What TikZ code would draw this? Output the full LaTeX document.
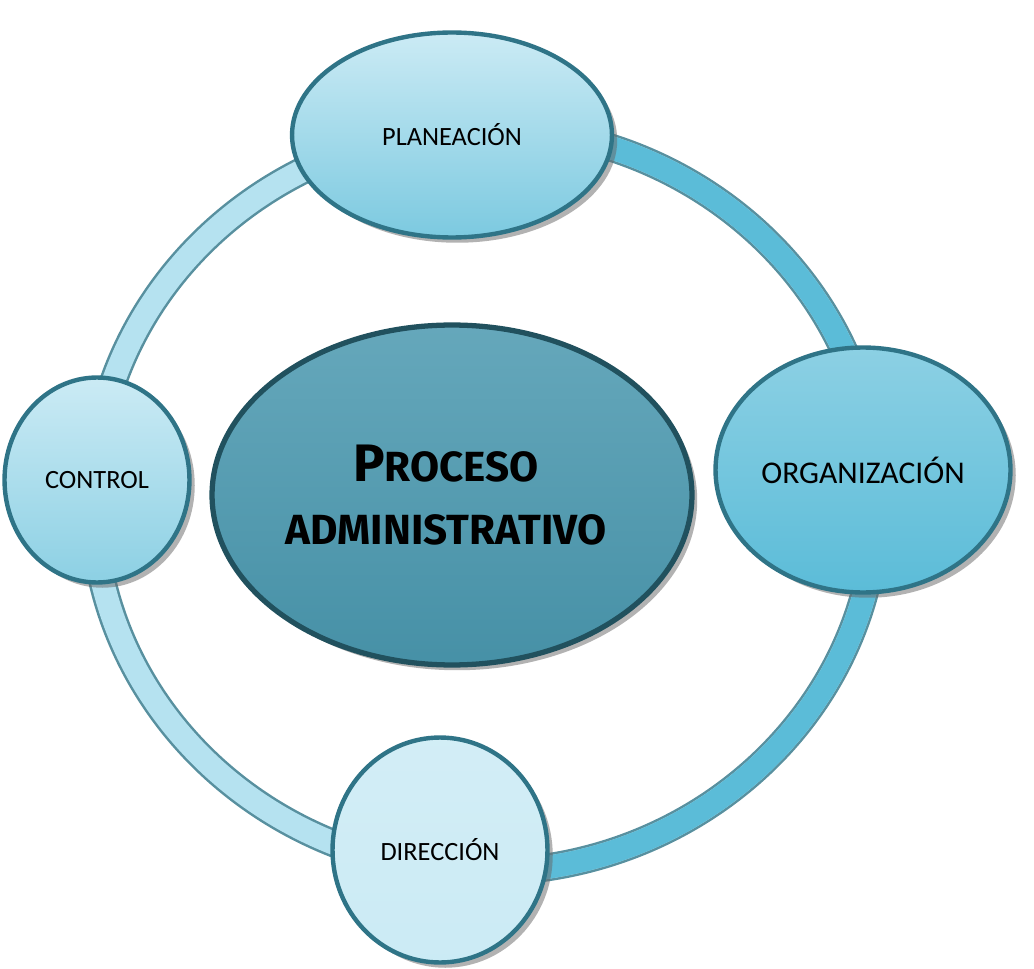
\documentclass[tikz,border=0pt]{standalone}
\usepackage{fontspec}
\setmainfont{Carlito}
\newfontfamily\headfont{Fira Sans}
\usetikzlibrary{shapes.geometric,shadows}
\definecolor{ringR}{HTML}{5BBCD8}
\definecolor{ringL}{HTML}{B5E2F0}
\definecolor{edge}{HTML}{2F7487}
\definecolor{mid}{HTML}{4A98AF}
\begin{document}
\begin{tikzpicture}[x=0.02cm,y=-0.02cm,
  bub/.style={ellipse,draw=edge,line width=2.5pt,inner sep=0pt,font=\fontsize{15}{18}\selectfont,drop shadow={shadow xshift=3pt,shadow yshift=-3pt,fill=black!60}}]
\useasboundingbox (0,0) rectangle (1034,969);
% ring
\draw[line width=0.56cm,edge!80] (485,500) ellipse [x radius=392,y radius=372];
\draw[line width=0.46cm,ringL] (485,500) ellipse [x radius=392,y radius=372];
\draw[line width=0.46cm,ringR] (485,872) arc[start angle=90,end angle=-90,x radius=392,y radius=372];
\node[bub,minimum width=9.6cm,minimum height=6.8cm,top color=mid!85!white,bottom color=mid!95!black,line width=3pt,draw=edge!70!black] (c) at (452,495) {};
\node[font=\headfont\bfseries\fontsize{30}{36}\selectfont,align=center] at (446,495) {P{\fontsize{24}{36}\selectfont ROCESO}\\{\fontsize{24}{36}\selectfont ADMINISTRATIVO}};
\node[bub,minimum width=6.4cm,minimum height=4.1cm,top color=ringL!70!white,bottom color=ringR!80!white] (p) at (452,135) {PLANEACIÓN};
\node[bub,minimum width=5.9cm,minimum height=4.9cm,top color=ringR!70!white,bottom color=ringR] (o) at (863,470) {\fontsize{18}{20}\selectfont ORGANIZACIÓN};
\node[bub,minimum width=3.7cm,minimum height=4.1cm,top color=ringL!70!white,bottom color=ringR!70!white] (k) at (97,480) {CONTROL};
\node[bub,minimum width=4.3cm,minimum height=4.5cm,top color=ringL!60!white,bottom color=ringL!70!white] (d) at (440,850) {DIRECCIÓN};
\end{tikzpicture}
\end{document}
